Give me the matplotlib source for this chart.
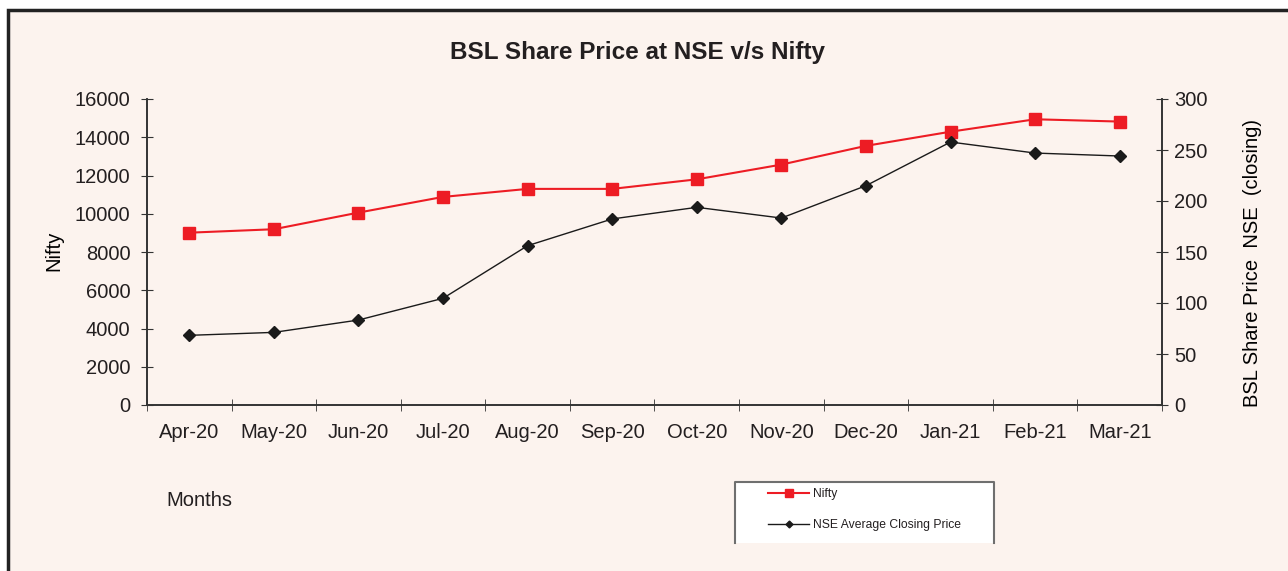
import matplotlib
matplotlib.use("Agg")
import matplotlib.pyplot as plt
from matplotlib.patches import Rectangle
from matplotlib.lines import Line2D

# data
months = ["Apr-20", "May-20", "Jun-20", "Jul-20", "Aug-20", "Sep-20",
          "Oct-20", "Nov-20", "Dec-20", "Jan-21", "Feb-21", "Mar-21"]
nifty = [9010, 9190, 10060, 10880, 11300, 11300,
         11800, 12570, 13550, 14290, 14940, 14820]
nse_close = [68.3, 71.2, 83.3, 104.6, 156.2, 182.4,
             193.8, 183.3, 215.0, 257.8, 247.0, 244.1]

bg = "#fcf3ee"
txt = "#231f20"
red = "#ed1c24"

plt.rcParams["font.family"] = ["Liberation Sans", "DejaVu Sans"]
plt.rcParams["text.color"] = txt

W, H = 1288, 571
fig = plt.figure(figsize=(W / 100, H / 100), dpi=100, facecolor="white")

# chart area frame (only top & left edges visible in the reference)
fig.add_artist(Rectangle((8 / W, -0.05), 1.1, 1 - 10 / H + 0.05,
                         transform=fig.transFigure, facecolor=bg,
                         edgecolor="#222222", linewidth=2.5, zorder=0))

ax = fig.add_axes([147 / W, 1 - 405 / H, (1162 - 147) / W, (405 - 99) / H])
ax.set_facecolor("none")
ax2 = ax.twinx()

x = list(range(len(months)))
ax.plot(x, nifty, color=red, lw=1.5, marker="s", ms=9, mec=red,
        label="Nifty", zorder=3)
ax2.plot(x, nse_close, color="#1a1a1a", lw=1, marker="D", ms=5.8,
         label="NSE Average Closing Price", zorder=3)

ax.set_xlim(-0.5, len(months) - 0.5)
ax.set_ylim(0, 16000)
ax.set_yticks(range(0, 16001, 2000))
ax2.set_ylim(0, 300)
ax2.set_yticks(range(0, 301, 50))

ax.set_xticks(x)
ax.set_xticklabels(months)
ax.set_xticks([i - 0.5 for i in range(len(months) + 1)], minor=True)
ax.tick_params(axis="x", which="major", length=0, pad=13, labelsize=14.5,
               colors=txt)
ax.tick_params(axis="x", which="minor", length=8, direction="inout",
               color="#333333")
ax.tick_params(axis="y", length=8, direction="inout", pad=8, labelsize=14.5,
               color="#333333", labelcolor=txt)
ax2.tick_params(axis="y", length=8, direction="inout", pad=5, labelsize=14.5,
                color="#333333", labelcolor=txt)

for a in (ax, ax2):
    a.spines["top"].set_visible(False)
    for s in ("left", "right", "bottom"):
        a.spines[s].set_color("#333333")
        a.spines[s].set_linewidth(1.2)

ax.set_ylabel("Nifty", fontsize=14.5)
ax.yaxis.set_label_coords(-0.082, 0.505)
ax2.set_ylabel("BSL Share Price  NSE  (closing)", fontsize=14.5)
ax2.yaxis.set_label_coords(1.08, 0.465)

fig.text(637 / W, 1 - 52 / H, "BSL Share Price at NSE v/s Nifty",
         fontsize=17.5, fontweight="bold", ha="center", va="center")
fig.text(166 / W, 1 - 501 / H, "Months", fontsize=14.5, ha="left",
         va="center")

# legend box: white, border on top/left/right, cut off at the bottom
fig.add_artist(Rectangle((735 / W, 1 - 543 / H), (994 - 735) / W,
                         (543 - 482) / H, transform=fig.transFigure,
                         facecolor="white", edgecolor="none", zorder=1))
fig.add_artist(Line2D([735 / W, 735 / W, 994 / W, 994 / W],
                      [1 - 543 / H, 1 - 482 / H, 1 - 482 / H, 1 - 543 / H],
                      transform=fig.transFigure, color="#6f6f6f", lw=1.5,
                      zorder=2))
h1, l1 = ax.get_legend_handles_labels()
h2, l2 = ax2.get_legend_handles_labels()
leg = fig.legend(h1 + h2, l1 + l2, loc="upper left",
                 bbox_to_anchor=(768 / W, 1 - 488 / H), frameon=False,
                 fontsize=8.7, handlelength=3.4, handletextpad=0.35,
                 labelspacing=1.55, borderpad=0, borderaxespad=0,
                 markerscale=0.6)
leg.set_zorder(3)

fig.savefig("out.png", dpi=100, facecolor="white")
